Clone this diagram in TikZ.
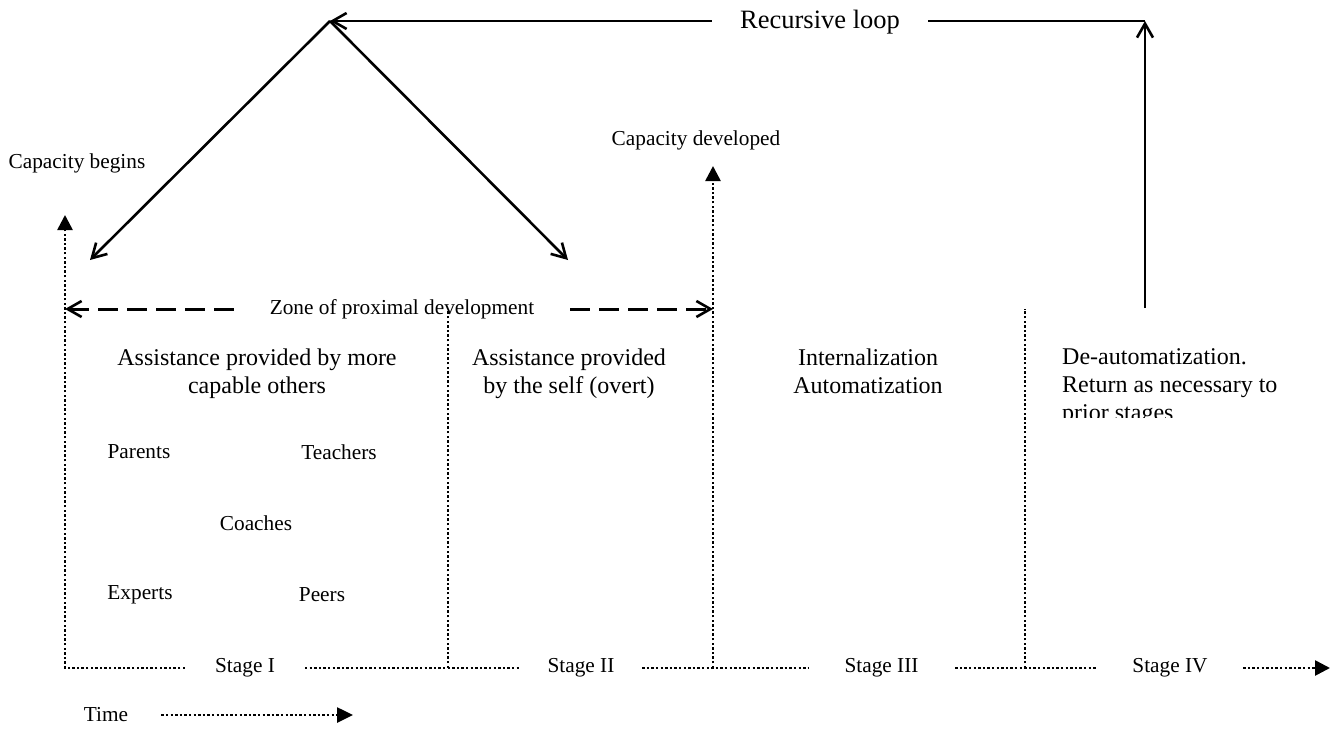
\documentclass[tikz,border=0pt]{standalone}
\usepackage{fontspec}
\setmainfont{Liberation Serif}
\usetikzlibrary{arrows.meta}
\begin{document}
\begin{tikzpicture}[x=1pt,y=-1pt,
  solidline/.style={line width=2.6pt},
  openhead/.style={-{Straight Barb[length=14pt,width=16pt,line width=2.6pt]}},
  dotline/.style={line width=2.6pt,dash pattern=on 2.4pt off 2.2pt},
  filledhead/.style={-{Triangle[length=15pt,width=15pt]}},
  dashline/.style={line width=3pt,dash pattern=on 20pt off 9pt},
  smalltext/.style={inner sep=0pt,font=\fontsize{21.3}{25}\selectfont},
  midtext/.style={inner sep=0pt,font=\fontsize{24}{28}\selectfont,align=center,anchor=north},
  stagelabel/.style={inner ysep=0pt,font=\fontsize{21.3}{25}\selectfont}]
\useasboundingbox (0,0) rectangle (1330,734);

% coordinates
\coordinate (apex) at (330,21);
\coordinate (corner) at (1145,21);
\coordinate (up) at (1145,308);
\coordinate (dl) at (90,260);
\coordinate (dr) at (568,260);
\coordinate (b0) at (65,668);
\coordinate (t0) at (65,215);
\coordinate (b1) at (448,668);
\coordinate (t1) at (448,310);
\coordinate (b2) at (713,668);
\coordinate (t2) at (713,166);
\coordinate (b3) at (1025,668);
\coordinate (t3) at (1025,309);
\coordinate (zl) at (65,309);
\coordinate (zr) at (713,309);
\coordinate (endarrow) at (1330,668);
\coordinate (timeend) at (353,715);

% recursive loop
\node[inner ysep=0pt,inner xsep=28pt,font=\fontsize{26.5}{30}\selectfont] (loop) at (820,22) {Recursive loop};
\draw[solidline,openhead] (loop.west |- apex) -- (apex);
\draw[solidline] (loop.east |- corner) -- (corner);
\draw[solidline,openhead] (up) -- (corner);
\draw[solidline,openhead] (apex) -- (dl);
\draw[solidline,openhead] (apex) -- (dr);

% capacity labels
\node[smalltext] (begins) at (77,163) {Capacity begins};
\node[smalltext] (developed) at (696,140) {Capacity developed};

% stage labels
\node[stagelabel,inner xsep=30pt] (s1) at (245,668) {Stage I};
\node[stagelabel,inner xsep=27.5pt] (s2) at (581,668) {Stage II};
\node[stagelabel,inner xsep=36.5pt] (s3) at (881.5,668) {Stage III};
\node[stagelabel,inner xsep=35.5pt] (s4) at (1170,668) {Stage IV};

% dotted axes
\draw[dotline,filledhead] (s1.west) -- (b0) -- (t0);
\draw[dotline] (s1.east) -- (b1) -- (s2.west);
\draw[dotline] (b1) -- (t1);
\draw[dotline] (s2.east) -- (b2) -- (s3.west);
\draw[dotline,filledhead] (b2) -- (t2);
\draw[dotline] (s3.east) -- (b3) -- (s4.west);
\draw[dotline] (b3) -- (t3);
\draw[dotline,filledhead] (s4.east) -- (endarrow);

% zone of proximal development
\node[smalltext,inner xsep=36pt] (zone) at (402,309) {Zone of proximal development};
\draw[dashline,openhead] (zone.west) -- (zl);
\draw[dashline,openhead] (zone.east) -- (zr);

% stage texts
\node[midtext] (a1) at (257,348.5) {Assistance provided by more\\capable others};
\node[midtext] (a2) at (569,348.5) {Assistance provided\\by the self (overt)};
\node[midtext] (a3) at (868,348.5) {Internalization\\Automatization};
\begin{scope}
\clip (1040,300) rectangle (1330,417);
\node[inner sep=0pt,font=\fontsize{24}{28}\selectfont,align=left,anchor=north west] (a4) at (1062,348.5) {De-automatization.\\Return as necessary to\\prior stages};
\end{scope}

% helpers
\node[smalltext] (parents) at (139,452) {Parents};
\node[smalltext] (teachers) at (339,452) {Teachers};
\node[smalltext] (coaches) at (256,523) {Coaches};
\node[smalltext] (experts) at (140,595) {Experts};
\node[smalltext] (peers) at (322,595) {Peers};

% time
\node[smalltext] (time) at (106,715) {Time};
\draw[dotline,-{Triangle[length=16pt,width=15pt]}] ([xshift=33pt]time.east) -- (timeend);
\end{tikzpicture}
\end{document}
